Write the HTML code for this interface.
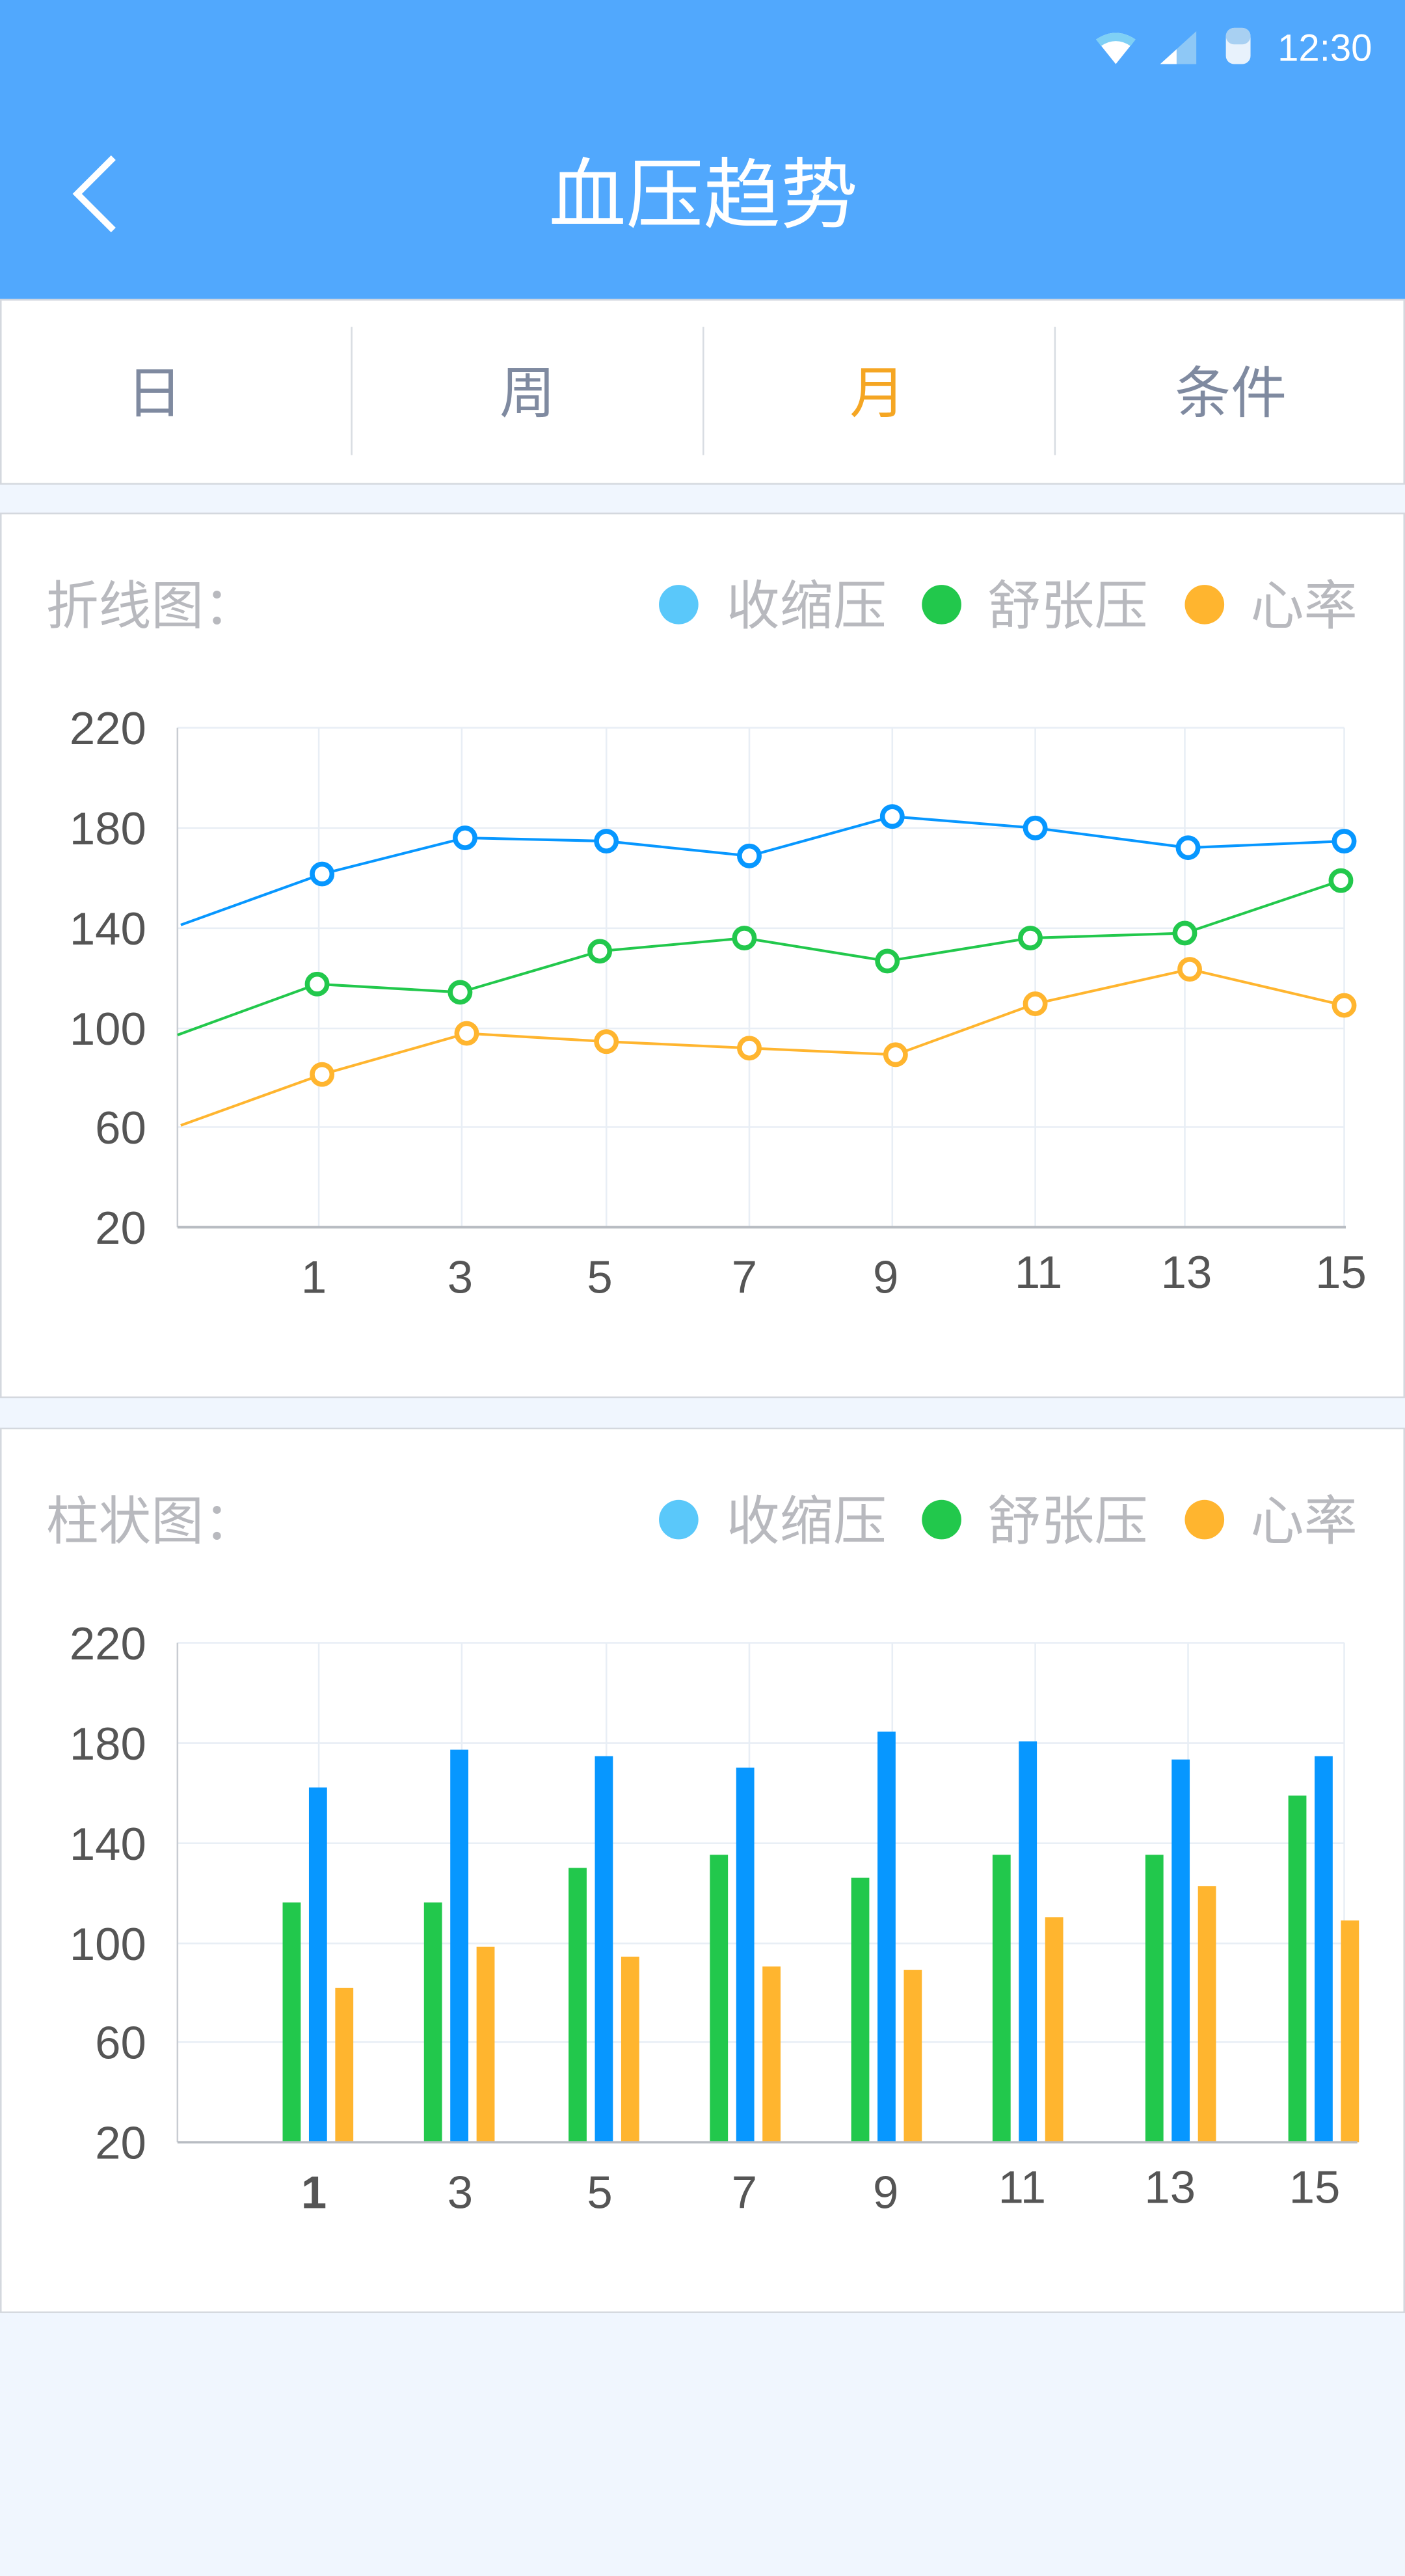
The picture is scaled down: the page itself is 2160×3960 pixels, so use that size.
<!DOCTYPE html>
<html><head><meta charset="utf-8"><style>
html,body{margin:0;padding:0;background:#F0F6FE;}
svg{display:block;}
text{font-family:"Liberation Sans","Noto Sans CJK SC",sans-serif;}
</style></head><body>
<svg width="2160" height="3960" viewBox="0 0 855 1568" preserveAspectRatio="none" xmlns="http://www.w3.org/2000/svg">
<rect x="0" y="0" width="855" height="1568" fill="#F0F6FE"/>
<!-- header -->
<rect x="0" y="0" width="855" height="182" fill="#51A8FD"/>
<path d="M667,24 Q679,16 691,24 L679,39 Z" fill="#fff"/>
<path d="M667,24 Q679,16 691,24 L688,28 Q679,22 670,28 Z" fill="#7FD0F5"/>
<path d="M706,39 L728,19 L728,39 Z" fill="#8EC8F6"/>
<path d="M706,39 L716,30 L716,39 Z" fill="#fff"/>
<rect x="746" y="17" width="15" height="22" rx="5" fill="#E8F2FC"/>
<rect x="746" y="17" width="15" height="10" rx="5" fill="#A8D0F2"/>
<text x="835" y="37" font-size="23" fill="#fff" text-anchor="end">12:30</text>
<path d="M69,96 L47,118 L69,140" fill="none" stroke="#fff" stroke-width="4"/>
<text x="428" y="135" font-size="47" fill="#fff" text-anchor="middle">血压趋势</text>
<!-- tabs -->
<rect x="0.5" y="182.5" width="854" height="112" fill="#fff" stroke="#D4D8DE"/>
<line x1="214" y1="199" x2="214" y2="277" stroke="#D8DCE2"/>
<line x1="428" y1="199" x2="428" y2="277" stroke="#D8DCE2"/>
<line x1="642" y1="199" x2="642" y2="277" stroke="#D8DCE2"/>
<g font-size="34" text-anchor="middle" fill="#7F8AA0">
<text x="94" y="251">日</text>
<text x="321" y="251">周</text>
<text x="534" y="251" fill="#F5A623">月</text>
<text x="749" y="251">条件</text>
</g>
<!-- card 1 -->
<rect x="0.5" y="312.5" width="854" height="538" fill="#fff" stroke="#D4D8DE"/>
<text x="28" y="380" font-size="32" fill="#B8B9BE">折线图：</text>
<circle cx="413" cy="368" r="12" fill="#5AC8FA"/>
<circle cx="573" cy="368" r="12" fill="#22C84C"/>
<circle cx="733" cy="368" r="12" fill="#FFB52F"/>
<g font-size="32.5" fill="#B8B9BE"><text x="442" y="380">收缩压</text><text x="601" y="380">舒张压</text><text x="761" y="380">心率</text></g>
<g stroke="#E8EEF5" stroke-width="1">
<line x1="108" y1="443" x2="818" y2="443"/><line x1="108" y1="504" x2="818" y2="504"/><line x1="108" y1="565" x2="818" y2="565"/><line x1="108" y1="626" x2="818" y2="626"/><line x1="108" y1="686" x2="818" y2="686"/>
<line x1="194" y1="443" x2="194" y2="747"/><line x1="281" y1="443" x2="281" y2="747"/><line x1="369" y1="443" x2="369" y2="747"/><line x1="456" y1="443" x2="456" y2="747"/><line x1="543" y1="443" x2="543" y2="747"/><line x1="630" y1="443" x2="630" y2="747"/><line x1="721" y1="443" x2="721" y2="747"/><line x1="818" y1="443" x2="818" y2="747"/>
</g>
<line x1="108" y1="443" x2="108" y2="747" stroke="#C8CCD2"/>
<line x1="108" y1="747" x2="819" y2="747" stroke="#B8BCC2" stroke-width="1.5"/>
<g font-size="28" fill="#555" text-anchor="end">
<text x="89" y="453">220</text><text x="89" y="514">180</text><text x="89" y="575">140</text><text x="89" y="636">100</text><text x="89" y="696">60</text><text x="89" y="757">20</text>
</g>
<g font-size="28" fill="#555" text-anchor="middle">
<text x="191" y="787">1</text><text x="280" y="787">3</text><text x="365" y="787">5</text><text x="453" y="787">7</text><text x="539" y="787">9</text><text x="632" y="784">11</text><text x="722" y="784">13</text><text x="816" y="784">15</text>
</g>
<polyline fill="none" stroke="#0797FF" stroke-width="1.6" points="110,563 196,532 283,510 369,512 456,521 543,497 630,504 723,516 818,512"/>
<polyline fill="none" stroke="#22C84C" stroke-width="1.6" points="108,630 193,599 280,604 365,579 453,571 540,585 627,571 721,568 816,536"/>
<polyline fill="none" stroke="#FFB52F" stroke-width="1.6" points="110,685 196,654 284,629 369,634 456,638 545,642 630,611 724,590 818,612"/>
<g fill="#fff" stroke-width="3">
<g stroke="#0797FF"><circle cx="196" cy="532" r="6"/><circle cx="283" cy="510" r="6"/><circle cx="369" cy="512" r="6"/><circle cx="456" cy="521" r="6"/><circle cx="543" cy="497" r="6"/><circle cx="630" cy="504" r="6"/><circle cx="723" cy="516" r="6"/><circle cx="818" cy="512" r="6"/></g>
<g stroke="#22C84C"><circle cx="193" cy="599" r="6"/><circle cx="280" cy="604" r="6"/><circle cx="365" cy="579" r="6"/><circle cx="453" cy="571" r="6"/><circle cx="540" cy="585" r="6"/><circle cx="627" cy="571" r="6"/><circle cx="721" cy="568" r="6"/><circle cx="816" cy="536" r="6"/></g>
<g stroke="#FFB52F"><circle cx="196" cy="654" r="6"/><circle cx="284" cy="629" r="6"/><circle cx="369" cy="634" r="6"/><circle cx="456" cy="638" r="6"/><circle cx="545" cy="642" r="6"/><circle cx="630" cy="611" r="6"/><circle cx="724" cy="590" r="6"/><circle cx="818" cy="612" r="6"/></g>
</g>
<!-- card 2 -->
<rect x="0.5" y="869.5" width="854" height="538" fill="#fff" stroke="#D4D8DE"/>
<text x="28" y="937" font-size="32" fill="#B8B9BE">柱状图：</text>
<circle cx="413" cy="925" r="12" fill="#5AC8FA"/>
<circle cx="573" cy="925" r="12" fill="#22C84C"/>
<circle cx="733" cy="925" r="12" fill="#FFB52F"/>
<g font-size="32.5" fill="#B8B9BE"><text x="442" y="937">收缩压</text><text x="601" y="937">舒张压</text><text x="761" y="937">心率</text></g>
<g stroke="#E8EEF5" stroke-width="1">
<line x1="108" y1="1000" x2="818" y2="1000"/><line x1="108" y1="1061" x2="818" y2="1061"/><line x1="108" y1="1122" x2="818" y2="1122"/><line x1="108" y1="1183" x2="818" y2="1183"/><line x1="108" y1="1243" x2="818" y2="1243"/>
<line x1="194" y1="1000" x2="194" y2="1304"/><line x1="281" y1="1000" x2="281" y2="1304"/><line x1="369" y1="1000" x2="369" y2="1304"/><line x1="456" y1="1000" x2="456" y2="1304"/><line x1="543" y1="1000" x2="543" y2="1304"/><line x1="630" y1="1000" x2="630" y2="1304"/><line x1="723" y1="1000" x2="723" y2="1304"/><line x1="818" y1="1000" x2="818" y2="1304"/>
</g>
<line x1="108" y1="1000" x2="108" y2="1304" stroke="#C8CCD2"/>
<g font-size="28" fill="#555" text-anchor="end">
<text x="89" y="1010">220</text><text x="89" y="1071">180</text><text x="89" y="1132">140</text><text x="89" y="1193">100</text><text x="89" y="1253">60</text><text x="89" y="1314">20</text>
</g>
<g font-size="28" fill="#555" text-anchor="middle">
<text x="191" y="1344" font-weight="bold">1</text><text x="280" y="1344">3</text><text x="365" y="1344">5</text><text x="453" y="1344">7</text><text x="539" y="1344">9</text><text x="622" y="1341">11</text><text x="712" y="1341">13</text><text x="800" y="1341">15</text>
</g>
<g fill="#22C84C">
<rect x="172" y="1158" width="11" height="146"/><rect x="258" y="1158" width="11" height="146"/><rect x="346" y="1137" width="11" height="167"/><rect x="432" y="1129" width="11" height="175"/><rect x="518" y="1143" width="11" height="161"/><rect x="604" y="1129" width="11" height="175"/><rect x="697" y="1129" width="11" height="175"/><rect x="784" y="1093" width="11" height="211"/>
</g>
<g fill="#0797FF">
<rect x="188" y="1088" width="11" height="216"/><rect x="274" y="1065" width="11" height="239"/><rect x="362" y="1069" width="11" height="235"/><rect x="448" y="1076" width="11" height="228"/><rect x="534" y="1054" width="11" height="250"/><rect x="620" y="1060" width="11" height="244"/><rect x="713" y="1071" width="11" height="233"/><rect x="800" y="1069" width="11" height="235"/>
</g>
<g fill="#FFB52F">
<rect x="204" y="1210" width="11" height="94"/><rect x="290" y="1185" width="11" height="119"/><rect x="378" y="1191" width="11" height="113"/><rect x="464" y="1197" width="11" height="107"/><rect x="550" y="1199" width="11" height="105"/><rect x="636" y="1167" width="11" height="137"/><rect x="729" y="1148" width="11" height="156"/><rect x="816" y="1169" width="11" height="135"/>
</g>
<line x1="108" y1="1304" x2="826" y2="1304" stroke="#B8BCC2" stroke-width="1.5"/>
</svg>
</body></html>
